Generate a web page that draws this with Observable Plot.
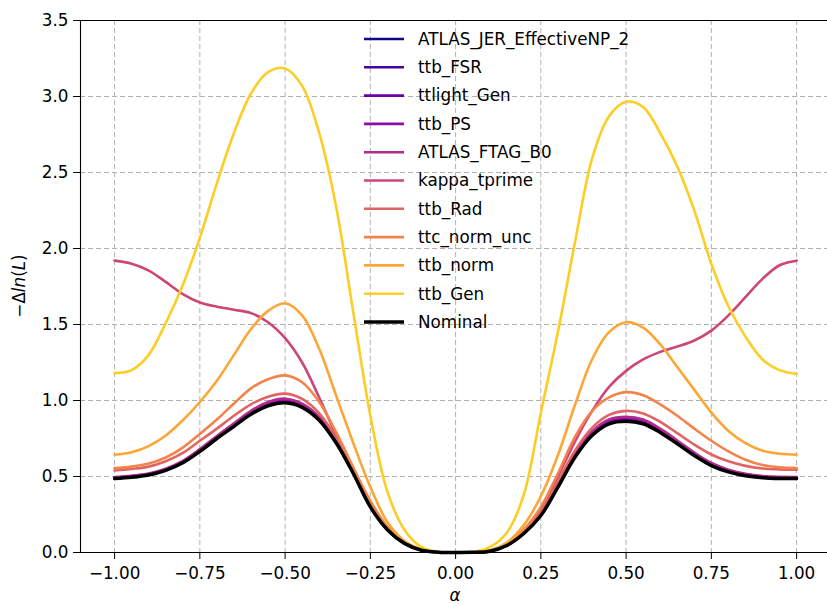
<!DOCTYPE html>
<html>
<head>
<meta charset="utf-8">
<script src="https://cdn.jsdelivr.net/npm/d3@7"></script>
<script src="https://cdn.jsdelivr.net/npm/@observablehq/plot@0.6"></script>
<style>
  html, body { margin: 0; padding: 0; background: white; }
  #chart svg { display: block; }
</style>
</head>
<body>
<div id="chart"></div>
<script>
const alpha = [-1, -0.95, -0.9, -0.85, -0.8, -0.75, -0.7, -0.65, -0.6, -0.55, -0.5, -0.45, -0.4, -0.35, -0.3, -0.25, -0.2, -0.15, -0.1, -0.05, 0,
  0.05, 0.1, 0.15, 0.2, 0.25, 0.3, 0.35, 0.4, 0.45, 0.5, 0.55, 0.6, 0.65, 0.7, 0.75, 0.8, 0.85, 0.9, 0.95, 1];

const series = ["ATLAS_JER_EffectiveNP_2", "ttb_FSR", "ttlight_Gen", "ttb_PS", "ATLAS_FTAG_B0",
  "kappa_tprime", "ttb_Rad", "ttc_norm_unc", "ttb_norm", "ttb_Gen"];
const colors = ["#0d0887", "#41049d", "#6a00a8", "#8f0da4", "#b12a90", "#cc4778", "#e16462", "#f2844b", "#fca636", "#fcce25"];

const ATLAS_JER_EffectiveNP_2 = [0.489,0.497,0.512,0.542,0.592,0.668,0.753,0.834,0.914,0.969,0.99,0.96,0.875,0.724,0.523,0.302,0.151,0.06,0.015,0.002,0,
  0.001,0.008,0.046,0.126,0.244,0.432,0.631,0.774,0.852,0.869,0.852,0.795,0.719,0.642,0.575,0.533,0.508,0.494,0.489,0.489];
const ttb_FSR = [0.49,0.498,0.513,0.544,0.594,0.67,0.755,0.836,0.917,0.972,0.993,0.963,0.878,0.727,0.526,0.304,0.152,0.061,0.015,0.002,0,
  0.001,0.008,0.046,0.126,0.245,0.434,0.634,0.779,0.857,0.874,0.857,0.8,0.723,0.646,0.579,0.536,0.51,0.496,0.491,0.49];
const ttlight_Gen = [0.492,0.5,0.515,0.546,0.596,0.672,0.758,0.839,0.92,0.976,0.997,0.967,0.881,0.73,0.528,0.305,0.153,0.061,0.015,0.002,0,
  0.001,0.008,0.047,0.127,0.247,0.437,0.638,0.784,0.862,0.879,0.862,0.804,0.727,0.649,0.582,0.539,0.513,0.498,0.493,0.492];
const ttb_PS = [0.494,0.502,0.517,0.548,0.598,0.675,0.761,0.843,0.924,0.981,1.003,0.972,0.886,0.734,0.531,0.307,0.154,0.061,0.015,0.002,0,
  0.001,0.008,0.047,0.128,0.249,0.44,0.643,0.789,0.868,0.885,0.867,0.808,0.731,0.652,0.585,0.541,0.515,0.5,0.495,0.494];
const ATLAS_FTAG_B0 = [0.497,0.505,0.52,0.552,0.603,0.68,0.767,0.85,0.932,0.99,1.012,0.98,0.893,0.74,0.535,0.31,0.155,0.062,0.016,0.002,0,
  0.001,0.008,0.048,0.13,0.252,0.445,0.65,0.797,0.876,0.893,0.875,0.815,0.737,0.657,0.589,0.545,0.518,0.503,0.498,0.497];
const kappa_tprime = [1.92,1.9,1.855,1.78,1.70,1.645,1.617,1.597,1.575,1.515,1.41,1.25,1.02,0.77,0.54,0.33,0.165,0.065,0.016,0.002,0,
  0.001,0.012,0.055,0.145,0.29,0.5,0.73,0.93,1.09,1.195,1.27,1.32,1.355,1.395,1.46,1.56,1.68,1.80,1.89,1.92];
const ttb_Rad = [0.54,0.55,0.565,0.6,0.655,0.735,0.815,0.9,0.975,1.025,1.045,1.01,0.915,0.755,0.545,0.325,0.16,0.065,0.017,0.002,0,
  0.001,0.009,0.05,0.135,0.265,0.465,0.67,0.82,0.905,0.932,0.915,0.86,0.785,0.71,0.645,0.6,0.57,0.553,0.547,0.545];
const ttc_norm_unc = [0.555,0.565,0.585,0.625,0.69,0.78,0.875,0.98,1.08,1.14,1.165,1.12,0.99,0.79,0.56,0.34,0.17,0.07,0.018,0.002,0,
  0.001,0.01,0.055,0.15,0.30,0.52,0.76,0.93,1.02,1.055,1.035,0.975,0.9,0.815,0.735,0.665,0.61,0.575,0.56,0.555];
const ttb_norm = [0.643,0.66,0.70,0.77,0.87,0.99,1.13,1.30,1.47,1.59,1.64,1.56,1.34,1.03,0.72,0.43,0.2,0.075,0.02,0.002,0,
  0.001,0.014,0.065,0.18,0.37,0.64,0.97,1.27,1.45,1.515,1.48,1.37,1.22,1.07,0.92,0.80,0.72,0.67,0.65,0.643];
const ttb_Gen = [1.18,1.20,1.30,1.51,1.76,2.07,2.43,2.76,3.02,3.16,3.185,3.07,2.76,2.27,1.58,0.90,0.40,0.15,0.035,0.004,0,
  0.003,0.035,0.13,0.38,0.92,1.45,2.04,2.59,2.87,2.965,2.93,2.76,2.54,2.25,1.90,1.62,1.42,1.27,1.2,1.175];
const Nominal = [0.487,0.495,0.51,0.54,0.59,0.665,0.75,0.83,0.91,0.965,0.985,0.955,0.87,0.72,0.52,0.30,0.15,0.06,0.015,0.002,0,
  0.001,0.008,0.046,0.125,0.243,0.43,0.627,0.77,0.847,0.864,0.847,0.79,0.715,0.638,0.572,0.53,0.505,0.492,0.487,0.487];

const xTicks = [-1, -0.75, -0.5, -0.25, 0, 0.25, 0.5, 0.75, 1];
const yTicks = [0, 0.5, 1, 1.5, 2, 2.5, 3, 3.5];

const seriesValues = [ATLAS_JER_EffectiveNP_2, ttb_FSR, ttlight_Gen, ttb_PS, ATLAS_FTAG_B0,
  kappa_tprime, ttb_Rad, ttc_norm_unc, ttb_norm, ttb_Gen];

const rows = [];
seriesValues.forEach((vals, i) => vals.forEach((v, j) => rows.push({series: series[i], x: alpha[j], y: v})));
const nominalRows = Nominal.map((v, j) => ({series: "Nominal", x: alpha[j], y: v}));

const FONT = "'DejaVu Sans', sans-serif";
const FS = 16.8;
const LW = 2.6;
const LW_NOM = 3.5;
const fmtX = d => (d < 0 ? "\u2212" : "") + Math.abs(d).toFixed(2);
const fmtY = d => d.toFixed(1);
const gridOpts = {stroke: "#b0b0b0", strokeOpacity: 1, strokeWidth: 1, strokeDasharray: "5,3"};

const chart = Plot.plot({
  width: 827,
  height: 606,
  marginLeft: 80,
  marginRight: 0,
  marginTop: 20,
  marginBottom: 54,
  style: {fontFamily: FONT, fontSize: FS + "px", background: "white", color: "black", overflow: "visible"},
  x: {domain: [-1.1, 1.0906], label: null},
  y: {domain: [0, 3.5], label: null},
  color: {domain: series, range: colors},
  marks: [
    Plot.gridX(xTicks, gridOpts),
    Plot.gridY(yTicks, gridOpts),
    Plot.line(rows, {x: "x", y: "y", z: "series", stroke: "series", strokeWidth: LW, curve: "catmull-rom"}),
    Plot.line(nominalRows, {x: "x", y: "y", stroke: "black", strokeWidth: LW_NOM, curve: "catmull-rom"}),
    Plot.ruleY([0], {stroke: "black", strokeWidth: 1.1}),
    Plot.ruleY([3.5], {stroke: "black", strokeWidth: 1.1}),
    Plot.ruleX([-1.1], {stroke: "black", strokeWidth: 1.1}),
    Plot.axisX(xTicks, {tickSize: 7, tickPadding: 8, tickFormat: fmtX, fontSize: FS, label: null}),
    Plot.axisY(yTicks, {tickSize: 7, tickPadding: 5, tickFormat: fmtY, fontSize: FS, label: null})
  ]
});

document.getElementById("chart").appendChild(chart);

// Legend and axis labels
const svg = d3.select(chart);
const legendNames = series.concat(["Nominal"]);
const legendColors = colors.concat(["black"]);
const lg = svg.append("g").attr("font-family", FONT).attr("font-size", FS).attr("text-anchor", "start");
legendNames.forEach((name, i) => {
  const cy = 39 + i * 28.3;
  lg.append("line").attr("x1", 364).attr("x2", 404).attr("y1", cy).attr("y2", cy)
    .attr("stroke", legendColors[i]).attr("stroke-width", name === "Nominal" ? LW_NOM : LW);
  lg.append("text").attr("x", 418).attr("y", cy).attr("dy", "0.35em")
    .attr("text-anchor", "start").attr("fill", "black").text(name);
});

svg.append("text")
  .attr("x", 455).attr("y", 601)
  .attr("text-anchor", "middle")
  .attr("font-family", FONT).attr("font-size", FS).attr("font-style", "italic")
  .attr("fill", "black")
  .text("\u03b1");

const yl = svg.append("text")
  .attr("transform", "translate(25,286) rotate(-90)")
  .attr("text-anchor", "middle")
  .attr("font-family", FONT).attr("font-size", FS)
  .attr("fill", "black");
yl.append("tspan").text("\u2212\u0394");
yl.append("tspan").attr("font-style", "italic").text("ln");
yl.append("tspan").text("(");
yl.append("tspan").attr("font-style", "italic").text("L");
yl.append("tspan").text(")");
</script>
</body>
</html>
